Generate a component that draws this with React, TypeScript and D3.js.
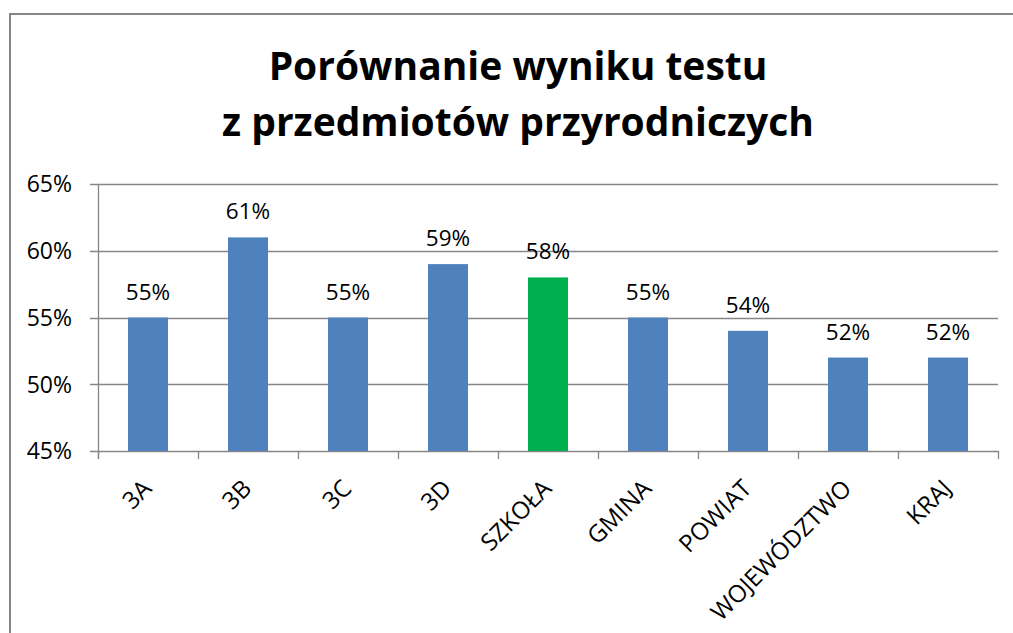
import React, { useRef, useEffect } from "react";
import * as d3 from "d3";

// dane z wykresu
const categories = ["3A", "3B", "3C", "3D", "SZKOŁA", "GMINA", "POWIAT", "WOJEWÓDZTWO", "KRAJ"];
const values = [55, 61, 55, 59, 58, 55, 54, 52, 52];
const highlighted = ["SZKOŁA"];
const yTicks = [45, 50, 55, 60, 65];
const titleLines = ["Porównanie wyniku testu", "z przedmiotów przyrodniczych"];

const App = () => {
  const chartRef = useRef<HTMLDivElement>(null);

  useEffect(() => {
    const width = 1013;
    const height = 633;
    const margin = { top: 184, right: 15, bottom: 182, left: 98 };
    const font = "'Open Sans', 'Noto Sans', sans-serif";
    const gridColor = "#868686";

    d3.select(chartRef.current).select("svg").remove();

    const svg = d3
      .select(chartRef.current)
      .append("svg")
      .attr("width", width)
      .attr("height", height)
      .style("display", "block");

    // ramka wykresu
    svg
      .append("rect")
      .attr("x", 10)
      .attr("y", 14)
      .attr("width", width + 20)
      .attr("height", height + 20)
      .attr("fill", "white")
      .attr("stroke", gridColor)
      .attr("stroke-width", 2);

    const x = d3
      .scaleBand()
      .domain(categories)
      .range([margin.left, width - margin.right])
      .paddingInner(0.6)
      .paddingOuter(0.3);

    const y = d3
      .scaleLinear()
      .domain([45, 65])
      .range([height - margin.bottom, margin.top]);

    const step = x.step();
    const x0 = margin.left;
    const x1 = width - margin.right;
    const y0 = y(45);

    // linie siatki
    svg
      .append("g")
      .selectAll("line")
      .data(yTicks)
      .join("line")
      .attr("x1", x0 - 8)
      .attr("x2", x1)
      .attr("y1", (d) => Math.round(y(d)) + 0.5)
      .attr("y2", (d) => Math.round(y(d)) + 0.5)
      .attr("stroke", gridColor)
      .attr("stroke-width", 1.3);

    // oś pionowa
    svg
      .append("line")
      .attr("x1", x0 + 0.5)
      .attr("x2", x0 + 0.5)
      .attr("y1", y(65))
      .attr("y2", y0 + 8)
      .attr("stroke", gridColor)
      .attr("stroke-width", 1.3);

    // znaczniki osi poziomej
    const tickXs = d3.range(categories.length + 1).map((i) => x0 + i * step);
    svg
      .append("g")
      .selectAll("line")
      .data(tickXs)
      .join("line")
      .attr("x1", (d) => Math.round(d) + 0.5)
      .attr("x2", (d) => Math.round(d) + 0.5)
      .attr("y1", y0)
      .attr("y2", y0 + 8)
      .attr("stroke", gridColor)
      .attr("stroke-width", 1.3);

    // słupki
    svg
      .append("g")
      .selectAll("rect")
      .data(values)
      .join("rect")
      .attr("x", (d, i) => x(categories[i])!)
      .attr("y", (d) => y(d))
      .attr("width", x.bandwidth())
      .attr("height", (d) => y0 - y(d))
      .attr("fill", (d, i) => (highlighted.includes(categories[i]) ? "#00B050" : "#4F81BD"));

    // etykiety wartości
    svg
      .append("g")
      .attr("font-family", font)
      .attr("font-size", "22.5px")
      .attr("fill", "black")
      .attr("text-anchor", "middle")
      .selectAll("text")
      .data(values)
      .join("text")
      .attr("x", (d, i) => x(categories[i])! + x.bandwidth() / 2)
      .attr("y", (d) => y(d) - 18)
      .text((d) => `${d}%`);

    // etykiety osi Y
    svg
      .append("g")
      .attr("font-family", font)
      .attr("font-size", "23px")
      .attr("fill", "black")
      .attr("text-anchor", "end")
      .selectAll("text")
      .data(yTicks)
      .join("text")
      .attr("x", 72)
      .attr("y", (d) => y(d))
      .attr("dy", "0.36em")
      .text((d) => `${d}%`);

    // etykiety kategorii (obrócone)
    svg
      .append("g")
      .attr("font-family", font)
      .attr("font-size", "24px")
      .attr("fill", "black")
      .attr("text-anchor", "end")
      .selectAll("text")
      .data(categories)
      .join("text")
      .attr("transform", (d) => {
        const cx = x(d)! + x.bandwidth() / 2 + 5;
        const cy = y0 + 39;
        return `translate(${cx},${cy}) rotate(-45)`;
      })
      .text((d) => d);

    // tytuł
    svg
      .append("g")
      .attr("font-family", font)
      .attr("font-size", "39px")
      .attr("font-weight", "bold")
      .attr("fill", "black")
      .attr("text-anchor", "middle")
      .selectAll("text")
      .data(titleLines)
      .join("text")
      .attr("x", 518)
      .attr("y", (d, i) => 80 + i * 56)
      .text((d) => d);
  }, []);

  return (
    <div style={{ position: "absolute", left: 0, top: 0 }}>
      <div ref={chartRef}></div>
    </div>
  );
};

export default App;
